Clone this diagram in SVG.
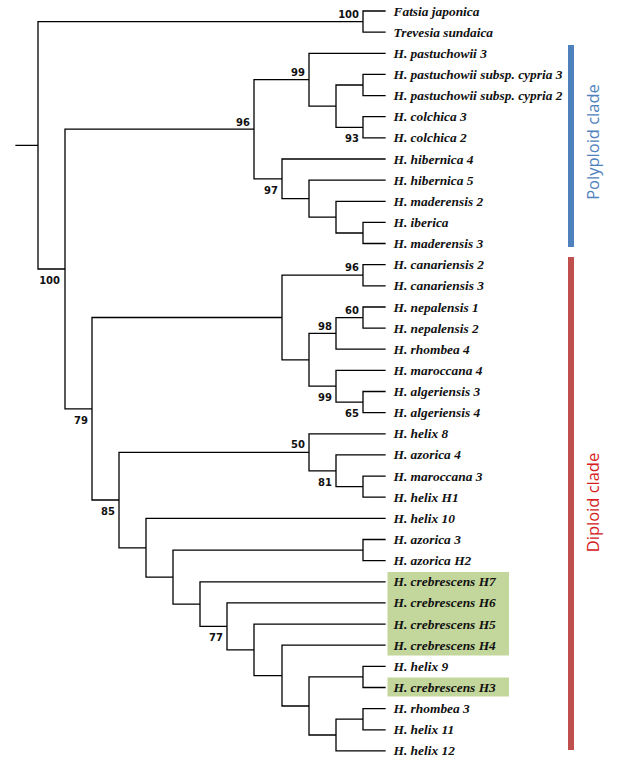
<svg xmlns="http://www.w3.org/2000/svg" width="621" height="760" viewBox="0 0 621 760">
<style>
.e{fill:none;stroke:#000;stroke-width:1.3;stroke-linecap:square}
.t{font-family:"Liberation Serif","Times New Roman",serif;font-style:italic;font-weight:bold;font-size:13.4px;fill:#111}
.b{font-family:"DejaVu Sans",Verdana,sans-serif;font-weight:bold;font-size:10px;fill:#111;text-anchor:end}
.hl{fill:#C3D69B}
.cl{font-family:"Open Sans","Noto Sans",sans-serif;font-size:16.5px;text-anchor:middle}
</style>
<rect width="621" height="760" fill="#fff"/>
<g id="highlights">
<rect class="hl" x="387.5" y="572" width="121.5" height="83.5"/>
<rect class="hl" x="387.5" y="677.5" width="121.5" height="19"/>
</g>
<g id="connectors">
<path class="e" d="M16 145.3H38M38 21.6V269M38 21.6H363M38 269H65
M363 11V32.1M363 11H385M363 32.1H385
M65 129.2V408.8M65 129.2H254M65 408.8H92
M254 79.7V178.8M254 79.7H309M254 178.8H282
M309 53.3V106.1M309 53.3H385M309 106.1H336
M336 85V127.3M336 85H363M336 127.3H363
M363 74.4V95.6M363 74.4H385M363 95.6H385
M363 116.7V137.8M363 116.7H385M363 137.8H385
M282 159V198.6M282 159H385M282 198.6H309
M309 180.1V217.1M309 180.1H385M309 217.1H336
M336 201.3V233M336 201.3H385M336 233H363
M363 222.4V243.5M363 222.4H385M363 243.5H385
M92 317.5V500M92 317.5H282M92 500H119
M282 275.2V359.8M282 275.2H363M282 359.8H309
M363 264.7V285.8M363 264.7H385M363 285.8H385
M309 333.4V386.2M309 333.4H336M309 386.2H336
M336 317.6V349.2M336 317.6H363M336 349.2H385
M363 307V328.1M363 307H385M363 328.1H385
M336 370.4V402.1M336 370.4H385M336 402.1H363
M363 391.5V412.7M363 391.5H385M363 412.7H385
M119 452.3V547.8M119 452.3H309M119 547.8H146
M309 433.8V470.8M309 433.8H385M309 470.8H336
M336 454.9V486.6M336 454.9H385M336 486.6H363
M363 476.1V497.2M363 476.1H385M363 497.2H385
M146 518.4V577.1M146 518.4H385M146 577.1H173
M173 550.1V604.1M173 550.1H363M173 604.1H200
M363 539.5V560.6M363 539.5H385M363 560.6H385
M200 581.8V626.4M200 581.8H385M200 626.4H227
M227 602.9V649.9M227 602.9H385M227 649.9H254
M254 624.1V675.6M254 624.1H385M254 675.6H282
M282 645.2V706M282 645.2H385M282 706H309
M309 676.9V735M309 676.9H363M309 735H336
M363 666.3V687.5M363 666.3H385M363 687.5H385
M336 719.2V750.9M336 719.2H363M336 750.9H385
M363 708.6V729.8M363 708.6H385M363 729.8H385"/>
</g>
<g id="support">
<text class="b" x="359" y="17.8">100</text>
<text class="b" x="305" y="76.2">99</text>
<text class="b" x="250" y="125.5">96</text>
<text class="b" x="359" y="141.5">93</text>
<text class="b" x="278" y="194">97</text>
<text class="b" x="60" y="284">100</text>
<text class="b" x="88" y="424">79</text>
<text class="b" x="359" y="271.3">96</text>
<text class="b" x="359" y="314">60</text>
<text class="b" x="332" y="330">98</text>
<text class="b" x="332" y="401">99</text>
<text class="b" x="359" y="416.8">65</text>
<text class="b" x="305" y="448.3">50</text>
<text class="b" x="332" y="486">81</text>
<text class="b" x="115" y="515">85</text>
<text class="b" x="223" y="641">77</text>
</g>
<g id="leaves">
<text class="t" x="393.5" y="15.5">Fatsia japonica</text>
<text class="t" x="393.5" y="36.6">Trevesia sundaica</text>
<text class="t" x="393.5" y="57.8">H. pastuchowii 3</text>
<text class="t" x="393.5" y="78.9">H. pastuchowii subsp. cypria 3</text>
<text class="t" x="393.5" y="100.1">H. pastuchowii subsp. cypria 2</text>
<text class="t" x="393.5" y="121.2">H. colchica 3</text>
<text class="t" x="393.5" y="142.3">H. colchica 2</text>
<text class="t" x="393.5" y="163.5">H. hibernica 4</text>
<text class="t" x="393.5" y="184.6">H. hibernica 5</text>
<text class="t" x="393.5" y="205.8">H. maderensis 2</text>
<text class="t" x="393.5" y="226.9">H. iberica</text>
<text class="t" x="393.5" y="248">H. maderensis 3</text>
<text class="t" x="393.5" y="269.2">H. canariensis 2</text>
<text class="t" x="393.5" y="290.3">H. canariensis 3</text>
<text class="t" x="393.5" y="311.5">H. nepalensis 1</text>
<text class="t" x="393.5" y="332.6">H. nepalensis 2</text>
<text class="t" x="393.5" y="353.7">H. rhombea 4</text>
<text class="t" x="393.5" y="374.9">H. maroccana 4</text>
<text class="t" x="393.5" y="396">H. algeriensis 3</text>
<text class="t" x="393.5" y="417.2">H. algeriensis 4</text>
<text class="t" x="393.5" y="438.3">H. helix 8</text>
<text class="t" x="393.5" y="459.4">H. azorica 4</text>
<text class="t" x="393.5" y="480.6">H. maroccana 3</text>
<text class="t" x="393.5" y="501.7">H. helix H1</text>
<text class="t" x="393.5" y="522.9">H. helix 10</text>
<text class="t" x="393.5" y="544">H. azorica 3</text>
<text class="t" x="393.5" y="565.1">H. azorica H2</text>
<text class="t" x="393.5" y="586.3">H. crebrescens H7</text>
<text class="t" x="393.5" y="607.4">H. crebrescens H6</text>
<text class="t" x="393.5" y="628.6">H. crebrescens H5</text>
<text class="t" x="393.5" y="649.7">H. crebrescens H4</text>
<text class="t" x="393.5" y="670.8">H. helix 9</text>
<text class="t" x="393.5" y="692">H. crebrescens H3</text>
<text class="t" x="393.5" y="713.1">H. rhombea 3</text>
<text class="t" x="393.5" y="734.3">H. helix 11</text>
<text class="t" x="393.5" y="755.4">H. helix 12</text>
</g>
<g id="polyploid-clade">
<rect x="568" y="45" width="6" height="202" fill="#4F81BD"/>
<text class="cl" fill="#4F81BD" transform="translate(599 142) rotate(-90)">Polyploid clade</text>
</g>
<g id="diploid-clade">
<rect x="568" y="257" width="6" height="493" fill="#C0504D"/>
<text class="cl" fill="#D42020" transform="translate(599 502.5) rotate(-90)">Diploid clade</text>
</g>
</svg>
